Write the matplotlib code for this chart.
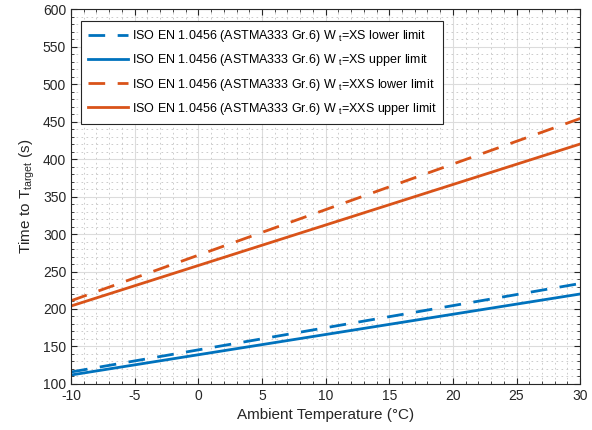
import matplotlib
matplotlib.use("Agg")
from matplotlib import pyplot as plt
from matplotlib.ticker import MultipleLocator

plt.rcParams['font.family'] = ['Liberation Sans', 'DejaVu Sans']
plt.rcParams['axes.unicode_minus'] = False
plt.rcParams['mathtext.default'] = 'regular'

# ambient temperature (deg C)
temp = [-10, 30]
xs_lower = [116, 234]
xs_upper = [112, 220]
xxs_lower = [211, 454]
xxs_upper = [204, 420]

labels = [
    "ISO EN 1.0456 (ASTMA333 Gr.6) W $_{t}$=XS lower limit",
    "ISO EN 1.0456 (ASTMA333 Gr.6) W $_{t}$=XS upper limit",
    "ISO EN 1.0456 (ASTMA333 Gr.6) W $_{t}$=XXS lower limit",
    "ISO EN 1.0456 (ASTMA333 Gr.6) W $_{t}$=XXS upper limit",
]

blue = '#0072BD'
orange = '#D95319'

fig = plt.figure(figsize=(5.92, 4.30), dpi=100)
ax = fig.add_axes([0.12, 0.107, 0.86, 0.872])

ax.plot(temp, xs_lower, '--', color=blue, lw=2, dashes=(6, 4.5), label=labels[0])
ax.plot(temp, xs_upper, '-', color=blue, lw=2, label=labels[1])
ax.plot(temp, xxs_lower, '--', color=orange, lw=2, dashes=(6, 4.5), label=labels[2])
ax.plot(temp, xxs_upper, '-', color=orange, lw=2, label=labels[3])

ax.set_xlim(-10, 30)
ax.set_ylim(100, 600)
ax.xaxis.set_major_locator(MultipleLocator(5))
ax.yaxis.set_major_locator(MultipleLocator(50))
ax.xaxis.set_minor_locator(MultipleLocator(1))
ax.yaxis.set_minor_locator(MultipleLocator(10))

ax.grid(which='major', color='#dcdcdc', lw=0.8)
ax.grid(which='minor', color='#c4c4c4', lw=0.6, linestyle=(0, (2, 4)))
ax.set_axisbelow(True)

ax.tick_params(which='both', direction='in', top=True, right=True,
               labelsize=10, colors='#262626')
ax.tick_params(which='major', length=4)
ax.tick_params(which='minor', length=2)
for s in ax.spines.values():
    s.set_color('#262626')
    s.set_linewidth(0.8)

ax.set_xlabel('Ambient Temperature (°C)', fontsize=11, color='#262626')
ax.set_ylabel('Time to T$_{target}$ (s)', fontsize=11, color='#262626')

leg = ax.legend(loc='upper left', bbox_to_anchor=(0.02, 0.967), fontsize=9,
                fancybox=False, edgecolor='#262626', framealpha=1,
                handlelength=3.2, handletextpad=0.3, borderpad=0.55,
                labelspacing=0.65, borderaxespad=0)
leg.get_frame().set_linewidth(0.8)

fig.savefig('out.png', dpi=100)
